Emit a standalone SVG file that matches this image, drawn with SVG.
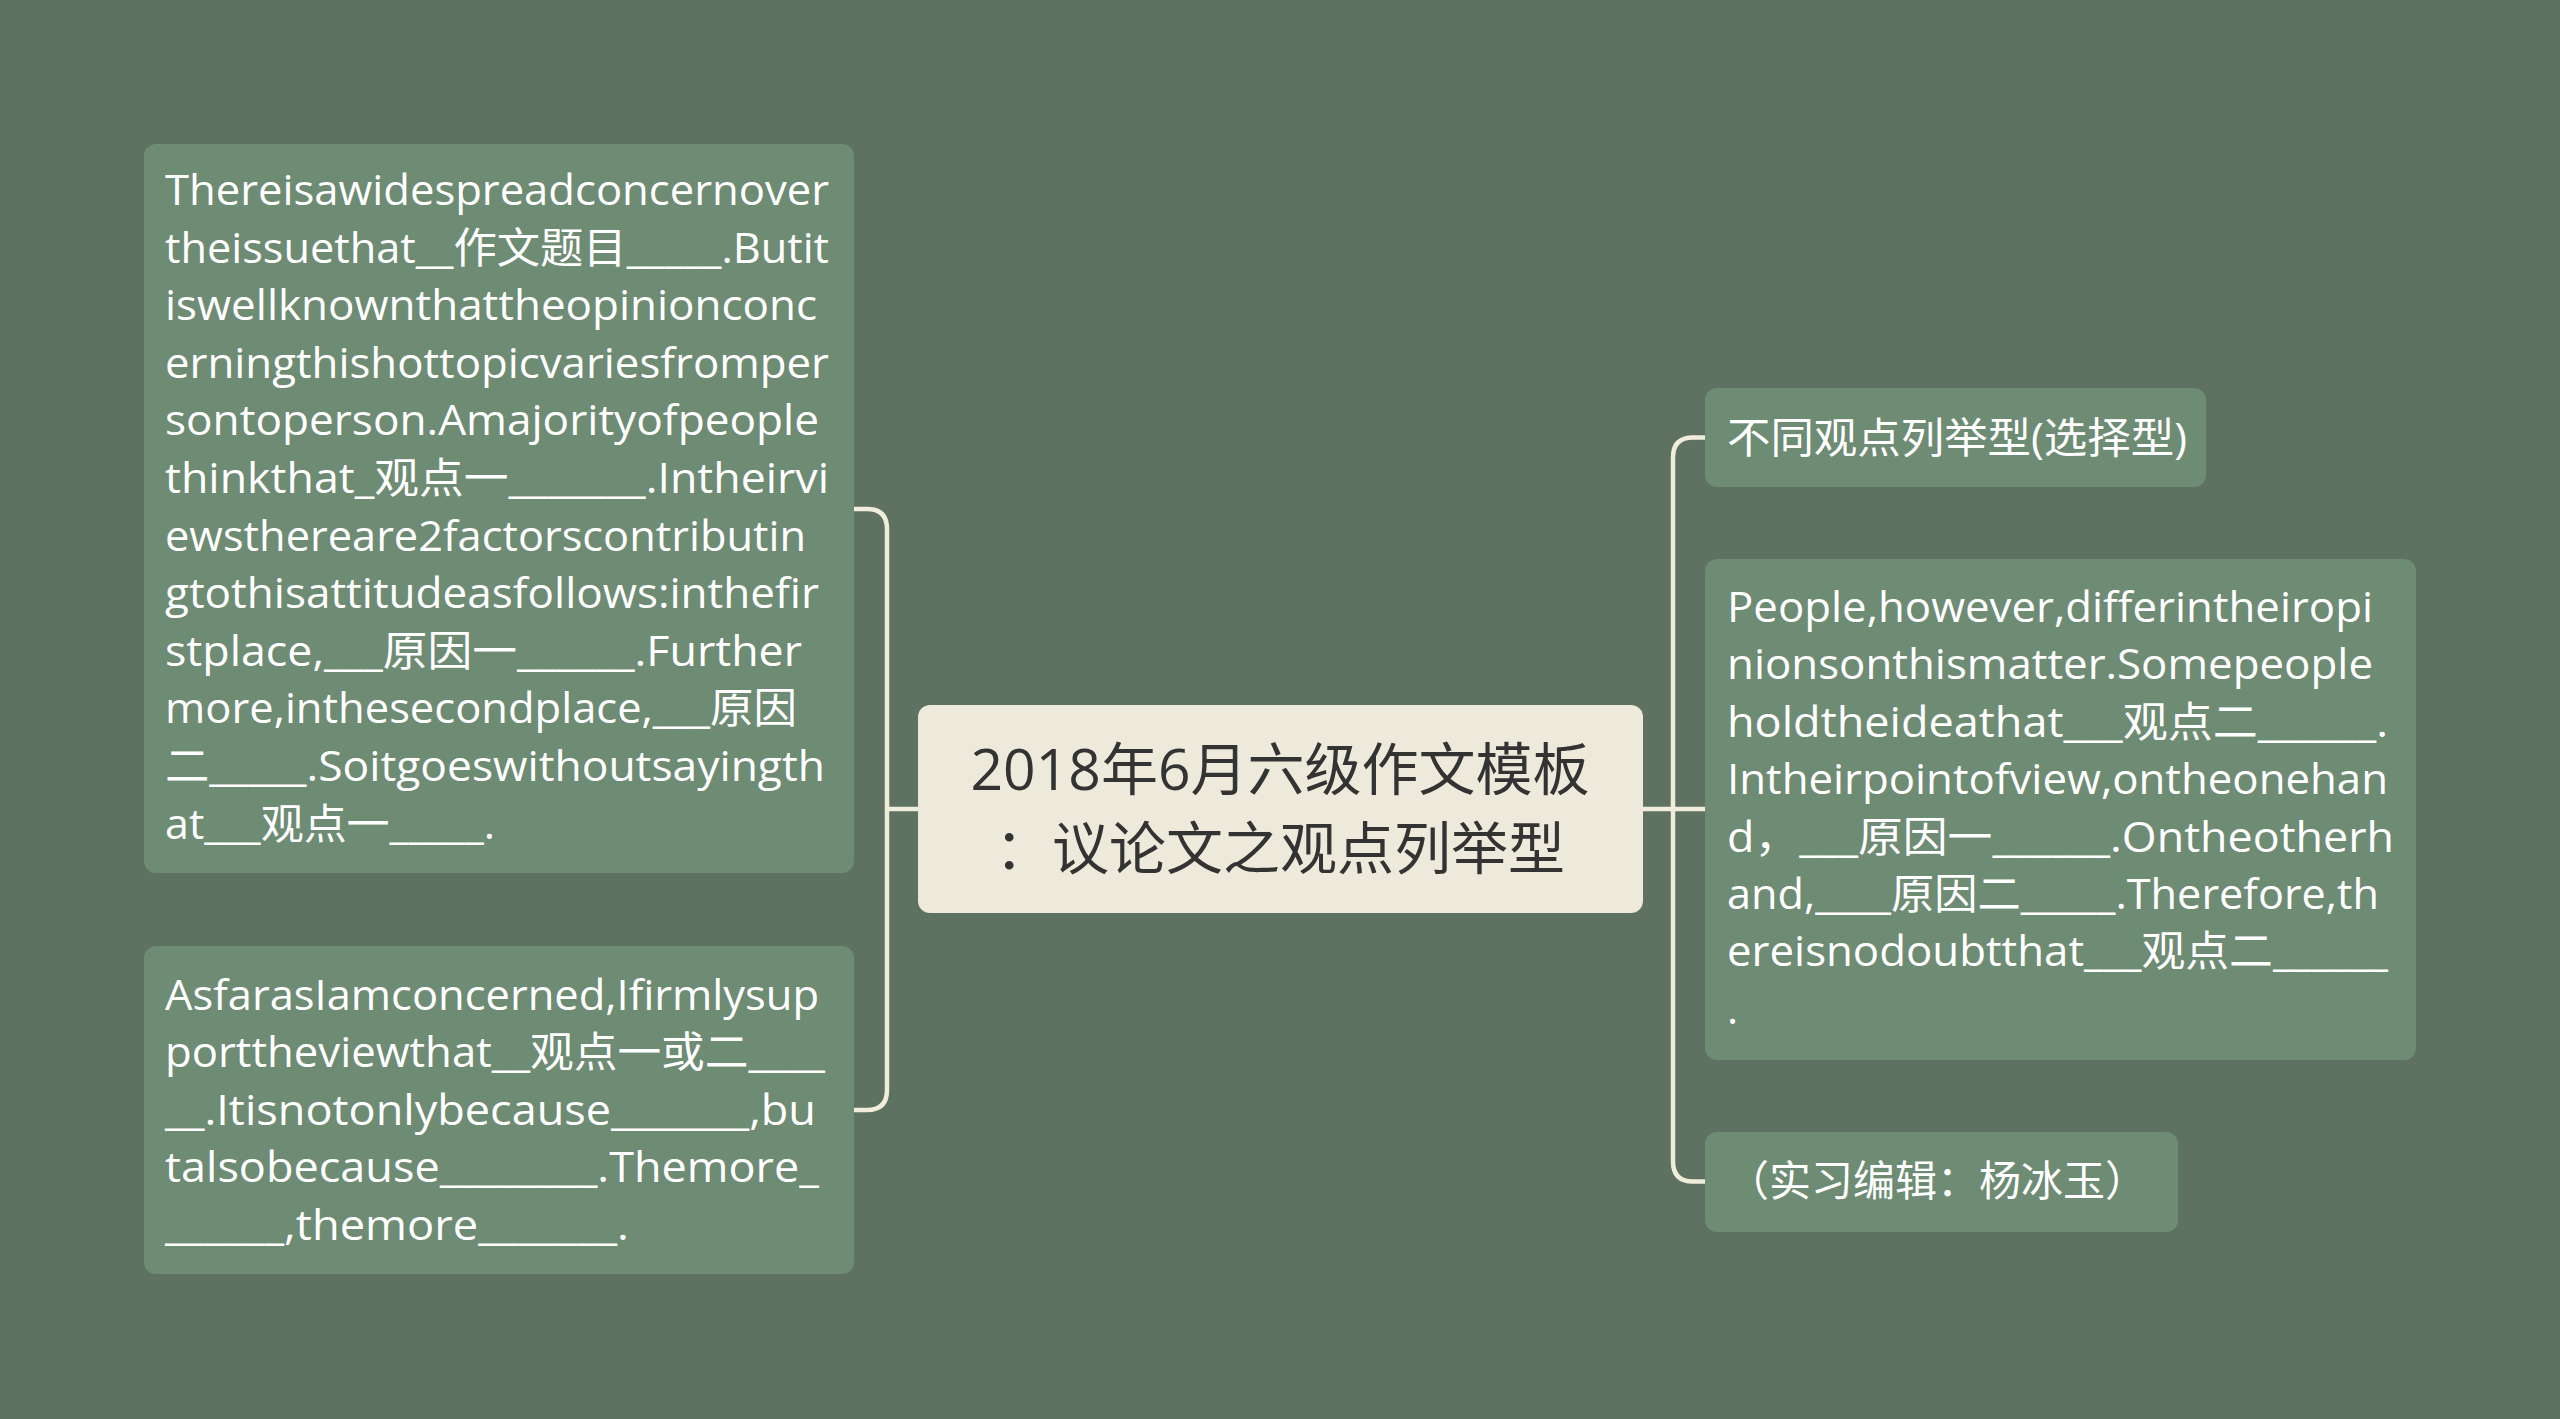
<svg xmlns="http://www.w3.org/2000/svg" width="2560" height="1419" viewBox="0 0 2560 1419">
<style>
.bg{fill:#5f7262}
.node{fill:#6e8b74}
.center{fill:#eeeadb}
.t{font-family:"Open Sans","Noto Sans CJK SC",sans-serif;font-size:42px;fill:#ffffff}
.ct{font-family:"Open Sans","Noto Sans CJK SC",sans-serif;font-size:57px;fill:#333333;text-anchor:middle}
.conn{fill:none;stroke:#f1eddb;stroke-width:4.5;stroke-linecap:round;stroke-linejoin:round}
</style>
<rect class="bg" x="0" y="0" width="2560" height="1419"/>
<g id="connectors">
<path class="conn" d="M918,809 H887"/>
<path class="conn" d="M854,509 H867 Q887,509 887,529 V1090 Q887,1110 867,1110 H854"/>
<path class="conn" d="M1643,809 H1705"/>
<path class="conn" d="M1705,437.5 H1693 Q1673,437.5 1673,457.5 V1161.5 Q1673,1181.5 1693,1181.5 H1705"/>
</g>
<g id="node-center">
<rect class="center" x="918" y="705" width="725" height="208" rx="12"/>
<text class="ct" x="1280" y="790">2018年6月六级作文模板</text>
<text class="ct" x="1280" y="869">：议论文之观点列举型</text>
</g>
<g id="node-left-1">
<rect class="node" x="144" y="144" width="710" height="729" rx="12"/>
<text class="t" x="165" y="205" textLength="664" lengthAdjust="spacingAndGlyphs">Thereisawidespreadconcernover</text>
<text class="t" x="165" y="262.6" textLength="664" lengthAdjust="spacingAndGlyphs">theissuethat__作文题目_____.Butit</text>
<text class="t" x="165" y="320.2" textLength="652" lengthAdjust="spacingAndGlyphs">iswellknownthattheopinionconc</text>
<text class="t" x="165" y="377.8" textLength="664" lengthAdjust="spacingAndGlyphs">erningthishottopicvariesfromper</text>
<text class="t" x="165" y="435.4" textLength="654" lengthAdjust="spacingAndGlyphs">sontoperson.Amajorityofpeople</text>
<text class="t" x="165" y="493" textLength="664" lengthAdjust="spacingAndGlyphs">thinkthat_观点一_______.Intheirvi</text>
<text class="t" x="165" y="550.6" textLength="641" lengthAdjust="spacingAndGlyphs">ewsthereare2factorscontributin</text>
<text class="t" x="165" y="608.2" textLength="654" lengthAdjust="spacingAndGlyphs">gtothisattitudeasfollows:inthefir</text>
<text class="t" x="165" y="665.8" textLength="637" lengthAdjust="spacingAndGlyphs">stplace,___原因一______.Further</text>
<text class="t" x="165" y="723.4" textLength="632" lengthAdjust="spacingAndGlyphs">more,inthesecondplace,___原因</text>
<text class="t" x="165" y="781" textLength="660" lengthAdjust="spacingAndGlyphs">二_____.Soitgoeswithoutsayingth</text>
<text class="t" x="165" y="838.6" textLength="330" lengthAdjust="spacingAndGlyphs">at___观点一_____.</text>
</g>
<g id="node-left-2">
<rect class="node" x="144" y="946" width="710" height="328" rx="12"/>
<text class="t" x="165" y="1010" textLength="654" lengthAdjust="spacingAndGlyphs">AsfarasIamconcerned,Ifirmlysup</text>
<text class="t" x="165" y="1067.4" textLength="660" lengthAdjust="spacingAndGlyphs">porttheviewthat__观点一或二____</text>
<text class="t" x="165" y="1124.8" textLength="651" lengthAdjust="spacingAndGlyphs">__.Itisnotonlybecause_______,bu</text>
<text class="t" x="165" y="1182.2" textLength="654" lengthAdjust="spacingAndGlyphs">talsobecause________.Themore_</text>
<text class="t" x="165" y="1239.6" textLength="464" lengthAdjust="spacingAndGlyphs">______,themore_______.</text>
</g>
<g id="node-right-1">
<rect class="node" x="1705" y="388" width="501" height="99" rx="12"/>
<text class="t" x="1727" y="453" textLength="460" lengthAdjust="spacingAndGlyphs">不同观点列举型(选择型)</text>
</g>
<g id="node-right-2">
<rect class="node" x="1705" y="559" width="711" height="501" rx="12"/>
<text class="t" x="1727" y="622" textLength="646" lengthAdjust="spacingAndGlyphs">People,however,differintheiropi</text>
<text class="t" x="1727" y="679.4" textLength="646" lengthAdjust="spacingAndGlyphs">nionsonthismatter.Somepeople</text>
<text class="t" x="1727" y="736.8" textLength="661" lengthAdjust="spacingAndGlyphs">holdtheideathat___观点二______.</text>
<text class="t" x="1727" y="794.2" textLength="661" lengthAdjust="spacingAndGlyphs">Intheirpointofview,ontheonehan</text>
<text class="t" x="1727" y="851.6" textLength="667" lengthAdjust="spacingAndGlyphs">d，___原因一______.Ontheotherh</text>
<text class="t" x="1727" y="909" textLength="652" lengthAdjust="spacingAndGlyphs">and,____原因二_____.Therefore,th</text>
<text class="t" x="1727" y="966.4" textLength="661" lengthAdjust="spacingAndGlyphs">ereisnodoubtthat___观点二______</text>
<text class="t" x="1727" y="1023.8">.</text>
</g>
<g id="node-right-3">
<rect class="node" x="1705" y="1132" width="473" height="100" rx="12"/>
<text class="t" x="1727" y="1196">（实习编辑：杨冰玉）</text>
</g>
</svg>
